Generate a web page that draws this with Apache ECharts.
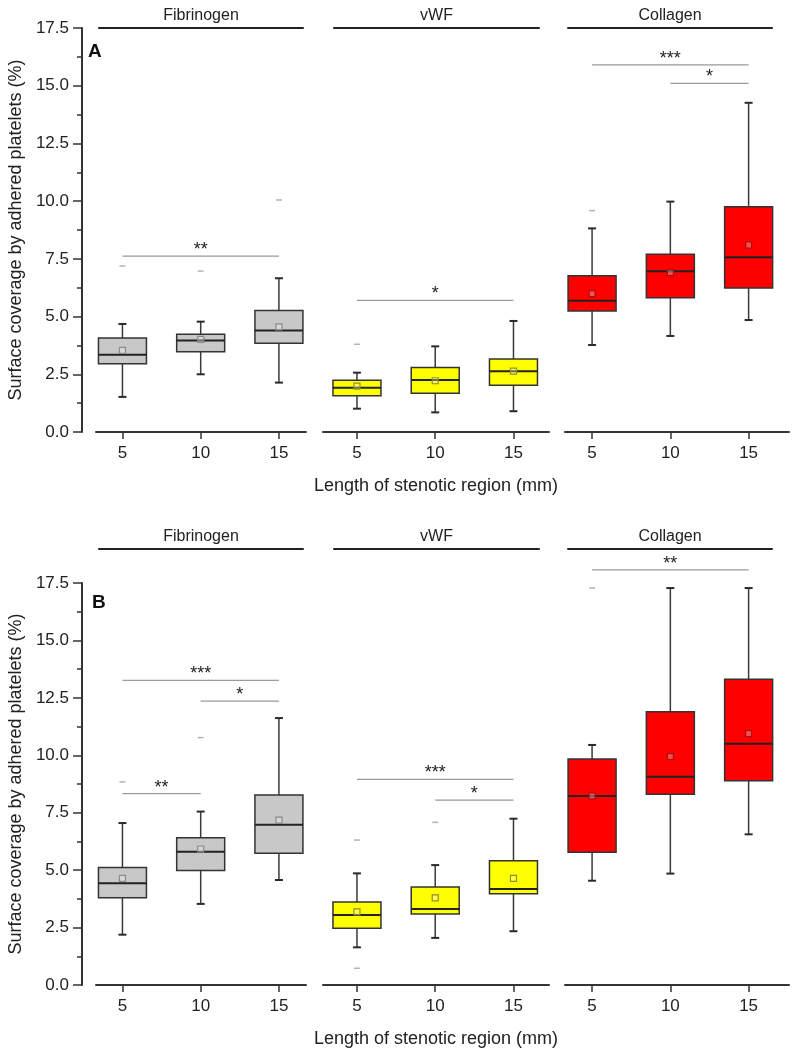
<!DOCTYPE html>
<html><head><meta charset="utf-8">
<script src="https://cdn.jsdelivr.net/npm/echarts@6/dist/echarts.min.js"></script>
<style>html,body{margin:0;padding:0;background:#fff}#c{width:792px;height:1050px}</style>
</head><body><div id="c"></div>
<script>
// ---------------- data ----------------
const groups = ['Fibrinogen', 'vWF', 'Collagen'];
const lengths = [5, 10, 15];
const panelLabels = ['A', 'B'];
const xAxisTitle = 'Length of stenotic region (mm)';
const yAxisTitle = 'Surface coverage by adhered platelets (%)';

// Panel A: per group, per length: [min, Q1, median, Q3, max]
const boxA = [
  [[1.52, 2.96, 3.35, 4.07, 4.68], [2.50, 3.48, 3.96, 4.23, 4.78], [2.14, 3.84, 4.40, 5.26, 6.66]],
  [[1.01, 1.57, 1.92, 2.24, 2.57], [0.85, 1.68, 2.25, 2.79, 3.71], [0.90, 2.02, 2.63, 3.16, 4.81]],
  [[3.77, 5.24, 5.69, 6.77, 8.82], [4.16, 5.82, 6.96, 7.70, 9.98], [4.85, 6.24, 7.57, 9.76, 14.26]]
];
const meanA = [[3.54, 4.01, 4.55], [1.99, 2.22, 2.64], [5.99, 6.90, 8.10]];
const outlierA = [[[7.19], [6.97], [10.05]], [[3.80], [], []], [[9.59], [], []]];
// [group, from, to, height, stars]
const sigA = [[0, 5, 15, 7.62, '**'], [1, 5, 15, 5.70, '*'], [2, 5, 15, 15.90, '***'], [2, 10, 15, 15.10, '*']];

// Panel B
const boxB = [
  [[2.19, 3.80, 4.43, 5.11, 7.05], [3.53, 4.98, 5.80, 6.41, 7.55], [4.57, 5.73, 6.98, 8.27, 11.62]],
  [[1.64, 2.47, 3.05, 3.61, 4.86], [2.05, 3.09, 3.31, 4.27, 5.22], [2.34, 3.97, 4.18, 5.41, 7.24]],
  [[4.54, 5.78, 8.23, 9.84, 10.45], [4.85, 8.30, 9.07, 11.90, 17.28], [6.56, 8.89, 10.50, 13.31, 17.28]]
];
const meanB = [[4.64, 5.92, 7.18], [3.18, 3.79, 4.64], [8.23, 9.94, 10.94]];
const outlierB = [[[8.84], [10.77], []], [[6.31, 0.73], [7.08], []], [[17.28], [], []]];
const sigB = [[0, 5, 15, 13.26, '***'], [0, 10, 15, 12.36, '*'], [0, 5, 10, 8.33, '**'],
              [1, 5, 15, 8.95, '***'], [1, 10, 15, 8.05, '*'], [2, 5, 15, 18.07, '**']];

// ---------------- layout / style ----------------
const FONT = 'Liberation Sans, Arial, sans-serif';
const fills = ['#c8c8c8', '#ffff00', '#ff0000'];
const meanStrokes = ['#8a8a8a', '#8f8f30', '#a81010'];
const PANELS = [
  { top: 28, height: 404, headerTop: 28, letterLeft: 88, letterTop: 42, box: boxA, mean: meanA, out: outlierA, sig: sigA },
  { top: 583, height: 402, headerTop: 549, letterLeft: 92, letterTop: 593, box: boxB, mean: meanB, out: outlierB, sig: sigB }
];
const COLS = [
  { left: 96, width: 210, min: 3.31, max: 16.73 },
  { left: 323, width: 226, min: 2.83, max: 17.27 },
  { left: 565, width: 224, min: 3.27, max: 17.58 }
];
const HEAD = [{ left: 99, width: 204 }, { left: 334, width: 205 }, { left: 568, width: 204 }];
const BOX_HALF = 24, CAP_HALF = 4;

function makeBoxRenderer(fill, meanStroke) {
  return function (params, api) {
    const x = api.value(0);
    const at = v => api.coord([x, v]);
    const lo = at(api.value(1)), q1 = at(api.value(2)), md = at(api.value(3)),
          q3 = at(api.value(4)), hi = at(api.value(5)), mn = at(api.value(6));
    const cx = md[0];
    const ws = { stroke: '#3a3a3a', lineWidth: 1.5 };
    const cs = { stroke: '#2a2a2a', lineWidth: 2 };
    return { type: 'group', children: [
      { type: 'line', shape: { x1: cx, y1: q3[1], x2: cx, y2: hi[1] }, style: ws },
      { type: 'line', shape: { x1: cx, y1: q1[1], x2: cx, y2: lo[1] }, style: ws },
      { type: 'line', shape: { x1: cx - CAP_HALF, y1: hi[1], x2: cx + CAP_HALF, y2: hi[1] }, style: cs },
      { type: 'line', shape: { x1: cx - CAP_HALF, y1: lo[1], x2: cx + CAP_HALF, y2: lo[1] }, style: cs },
      { type: 'rect', shape: { x: cx - BOX_HALF, y: q3[1], width: 2 * BOX_HALF, height: q1[1] - q3[1] },
        style: { fill: fill, stroke: '#333', lineWidth: 1.5 } },
      { type: 'line', shape: { x1: cx - BOX_HALF, y1: md[1], x2: cx + BOX_HALF, y2: md[1] },
        style: { stroke: '#222', lineWidth: 2 } },
      { type: 'rect', shape: { x: mn[0] - 3, y: mn[1] - 3, width: 6, height: 6 },
        style: { fill: 'rgba(255,255,255,0.3)', stroke: meanStroke, lineWidth: 1.2 } }
    ] };
  };
}

function makeSigRenderer(labels) {
  return function (params, api) {
    const p1 = api.coord([api.value(0), api.value(2)]);
    const p2 = api.coord([api.value(1), api.value(2)]);
    return { type: 'group', children: [
      { type: 'line', shape: { x1: p1[0], y1: p1[1], x2: p2[0], y2: p2[1] },
        style: { stroke: '#9a9a9a', lineWidth: 1.2 } },
      { type: 'text', x: (p1[0] + p2[0]) / 2, y: p1[1] + 3,
        style: { text: labels[params.dataIndex], fontSize: 18, fontFamily: FONT, fill: '#222',
                 align: 'center', verticalAlign: 'bottom' } }
    ] };
  };
}

const grids = [], xAxes = [], yAxes = [], series = [], titles = [];

PANELS.forEach((P, p) => {
  titles.push({ text: panelLabels[p], left: P.letterLeft, top: P.letterTop, padding: 0,
    textStyle: { fontSize: 19, fontWeight: 'bold', fontFamily: FONT, color: '#111' } });

  groups.forEach((gName, g) => {
    const C = COLS[g];
    const gi = grids.length;
    grids.push({ left: C.left, width: C.width, top: P.top, height: P.height, outerBoundsMode: 'none' });
    xAxes.push({
      gridIndex: gi, type: 'value', min: C.min, max: C.max,
      name: g === 1 ? xAxisTitle : '', nameLocation: 'middle', nameGap: 45,
      nameTextStyle: { fontSize: 18, fontFamily: FONT, color: '#222' },
      axisLine: { show: true, onZero: false, lineStyle: { color: '#333', width: 2 } },
      axisTick: { show: true, customValues: lengths, length: 7, lineStyle: { color: '#333', width: 1.5 } },
      axisLabel: { show: true, customValues: lengths, fontSize: 17, margin: 13, color: '#222', fontFamily: FONT },
      splitLine: { show: false }
    });
    yAxes.push({
      gridIndex: gi, type: 'value', min: 0, max: 17.5, interval: 2.5,
      show: g === 0, offset: 14,
      name: yAxisTitle, nameLocation: 'middle', nameGap: 57,
      nameTextStyle: { fontSize: 18, fontFamily: FONT, color: '#222' },
      axisLine: { show: true, lineStyle: { color: '#333', width: 2 } },
      axisTick: { show: true, length: 9, lineStyle: { color: '#333', width: 1.5 } },
      minorTick: { show: true, splitNumber: 2, length: 5, lineStyle: { color: '#333', width: 1.5 } },
      axisLabel: { fontSize: 17, margin: 13, color: '#222', fontFamily: FONT,
                   formatter: v => v.toFixed(1) },
      splitLine: { show: false }
    });

    series.push({
      type: 'custom', xAxisIndex: gi, yAxisIndex: gi, clip: false, z: 3,
      encode: { x: 0, y: [1, 2, 3, 4, 5] },
      data: lengths.map((L, i) => [L].concat(P.box[g][i], [P.mean[g][i]])),
      renderItem: makeBoxRenderer(fills[g], meanStrokes[g])
    });

    const outs = [];
    lengths.forEach((L, i) => P.out[g][i].forEach(v => outs.push([L, v])));
    series.push({
      type: 'scatter', xAxisIndex: gi, yAxisIndex: gi, clip: false, z: 4,
      symbol: 'rect', symbolSize: [6, 1.5], itemStyle: { color: '#a0a0a0' },
      data: outs
    });

    const sigs = P.sig.filter(s => s[0] === g);
    if (sigs.length) {
      series.push({
        type: 'custom', xAxisIndex: gi, yAxisIndex: gi, clip: false, z: 5,
        encode: { x: [0, 1], y: 2 },
        data: sigs.map(s => [s[1], s[2], s[3]]),
        renderItem: makeSigRenderer(sigs.map(s => s[4]))
      });
    }
  });

  groups.forEach((gName, g) => {
    const H = HEAD[g];
    const gi = grids.length;
    grids.push({ left: H.left, width: H.width, top: P.headerTop, height: 1, outerBoundsMode: 'none' });
    xAxes.push({
      gridIndex: gi, type: 'value', min: 0, max: 1, position: 'top',
      name: gName, nameLocation: 'middle', nameGap: 4,
      nameTextStyle: { fontSize: 16, fontFamily: FONT, color: '#222' },
      axisLine: { show: true, onZero: false, lineStyle: { color: '#222', width: 2 } },
      axisTick: { show: false }, axisLabel: { show: false }, splitLine: { show: false }
    });
    yAxes.push({ gridIndex: gi, type: 'value', show: false, min: 0, max: 1, splitLine: { show: false } });
  });
});

const chart = echarts.init(document.getElementById('c'), null, { renderer: 'canvas' });
chart.setOption({
  animation: false,
  backgroundColor: '#fff',
  textStyle: { fontFamily: FONT },
  title: titles,
  grid: grids,
  xAxis: xAxes,
  yAxis: yAxes,
  series: series
});
</script>
</body></html>
